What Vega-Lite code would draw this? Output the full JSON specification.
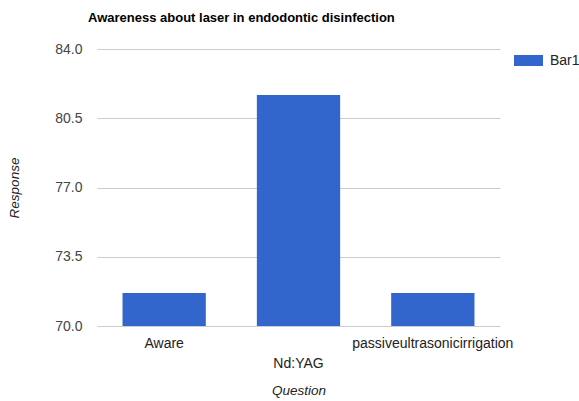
{
  "$schema": "https://vega.github.io/schema/vega-lite/v6.json",
  "width": 403,
  "height": 277,
  "autosize": "none",
  "padding": {"left": 97, "top": 49, "right": 79, "bottom": 75},
  "background": "white",
  "title": {
    "text": "Awareness about laser in endodontic disinfection",
    "anchor": "start",
    "frame": "group",
    "dx": -9,
    "offset": 17,
    "font": "Liberation Sans",
    "fontSize": 13,
    "fontWeight": "bold",
    "color": "#000000"
  },
  "data": {
    "values": [
      {"Question": "Aware", "Response": 71.67, "Series": "Bar1"},
      {"Question": "Nd:YAG", "Response": 81.67, "Series": "Bar1"},
      {"Question": "passiveultrasonicirrigation", "Response": 71.67, "Series": "Bar1"}
    ]
  },
  "mark": {"type": "bar", "clip": true},
  "encoding": {
    "x": {
      "field": "Question",
      "type": "nominal",
      "sort": null,
      "scale": {"paddingInner": 0.38, "paddingOuter": 0.19},
      "axis": {
        "title": "Question",
        "titleFont": "Liberation Sans",
        "titleFontSize": 13.5,
        "titleFontStyle": "italic",
        "titleFontWeight": "normal",
        "titleColor": "#222222",
        "titlePadding": 13,
        "labelAngle": 0,
        "labelFont": "Liberation Sans",
        "labelFontSize": 14,
        "labelColor": "#222222",
        "labelPadding": {"condition": {"test": "datum.value === 'Nd:YAG'", "value": 30}, "value": 10},
        "ticks": false,
        "domain": false,
        "grid": false
      }
    },
    "y": {
      "field": "Response",
      "type": "quantitative",
      "scale": {"domain": [70, 84], "zero": false, "nice": false},
      "axis": {
        "title": "Response",
        "titleFont": "Liberation Sans",
        "titleFontSize": 13.5,
        "titleFontStyle": "italic",
        "titleFontWeight": "normal",
        "titleColor": "#222222",
        "titlePadding": 33,
        "values": [70, 73.5, 77, 80.5, 84],
        "format": ".1f",
        "labelFont": "Liberation Sans",
        "labelFontSize": 14,
        "labelColor": "#444444",
        "labelPadding": 15,
        "ticks": false,
        "domain": false,
        "grid": true,
        "gridColor": "#cccccc",
        "gridWidth": 1
      }
    },
    "color": {
      "field": "Series",
      "type": "nominal",
      "scale": {"range": ["#3366cc"]},
      "legend": {
        "title": null,
        "orient": "none",
        "legendX": 417,
        "legendY": -3,
        "padding": 0,
        "symbolType": "M-1,-0.38H1V0.38H-1Z",
        "symbolSize": 841,
        "symbolStrokeWidth": 0,
        "symbolOpacity": 1,
        "labelFont": "Liberation Sans",
        "labelFontSize": 14,
        "labelColor": "#222222",
        "labelOffset": 7
      }
    }
  },
  "config": {
    "view": {"stroke": null}
  }
}
